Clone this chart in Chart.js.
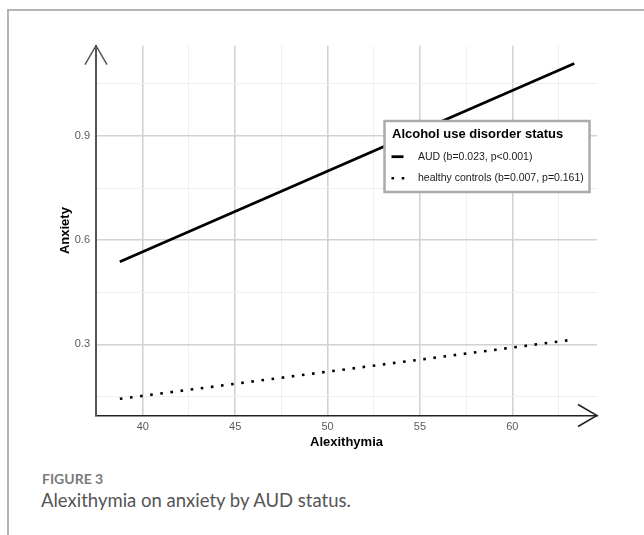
<!DOCTYPE html>
<html>
<head>
<meta charset="utf-8">
<script src="https://cdn.jsdelivr.net/npm/chart.js@4"></script>
<style>
    html, body { margin: 0; padding: 0; background: #fff; }
    body { width: 644px; height: 535px; position: relative; overflow: hidden; }
    #frame {
        position: absolute; left: 7px; top: 9px; right: -4px; bottom: -4px;
        border-top: 2px solid #b4b4b4; border-left: 2px solid #b4b4b4;
    }
    #chart { position: absolute; left: 0; top: 0; }
    .fig-label {
        position: absolute; left: 42px; top: 469.5px;
        font-family: Lato, "Open Sans", sans-serif; font-size: 14px; font-weight: bold;
        color: #7a7a7a;
    }
    .fig-caption {
        position: absolute; left: 41px; top: 488.5px;
        font-family: Lato, "Open Sans", sans-serif; font-size: 18.5px; color: #555;
    }
</style>
</head>
<body>
<div id="frame"></div>
<canvas id="chart" width="644" height="460"></canvas>
<div class="fig-label">FIGURE 3</div>
<div class="fig-caption">Alexithymia on anxiety by AUD status.</div>

<script>
// fitted lines, end points
const alexithymia = [38.76, 63.35];
const audAnxiety = [0.538, 1.109];
const hcAnxiety = [0.143, 0.314];

const seriesLabels = ["AUD (b=0.023, p<0.001)", "healthy controls (b=0.007, p=0.161)"];
const legendTitle = "Alcohol use disorder status";

const xTicks = [37.5, 40, 42.5, 45, 47.5, 50, 52.5, 55, 57.5, 60, 62.5];
const xLabels = [40, 45, 50, 55, 60];
const yTicks = [0.15, 0.3, 0.45, 0.6, 0.75, 0.9, 1.05];
const yLabels = [0.3, 0.6, 0.9];

const FONT = "'Liberation Sans', Arial, Helvetica, sans-serif";
Chart.defaults.font.family = FONT;

function points(xs, ys) {
    return xs.map((x, i) => ({ x: x, y: ys[i] }));
}

function isLabelled(list, v) {
    return list.some((l) => Math.abs(l - v) < 1e-6);
}

const MAJOR_GRID = "#d2d2d2";
const MINOR_GRID = "#efefef";

// axis arrows + the boxed legend inside the panel
const decorations = {
    id: "decorations",
    afterDraw(chart) {
        const ctx = chart.ctx;
        const area = chart.chartArea;
        ctx.save();

        // y arrow
        ctx.strokeStyle = "#555";
        ctx.lineWidth = 1.5;
        ctx.beginPath();
        ctx.moveTo(area.left - 11, area.top + 19);
        ctx.lineTo(area.left, area.top);
        ctx.lineTo(area.left + 11, area.top + 19);
        ctx.stroke();

        // x arrow
        ctx.strokeStyle = "#222";
        ctx.beginPath();
        ctx.moveTo(area.right - 19, area.bottom - 11);
        ctx.lineTo(area.right, area.bottom);
        ctx.lineTo(area.right - 19, area.bottom + 11);
        ctx.stroke();

        // legend
        const box = { left: 384.5, top: 121, width: 205, height: 71 };
        ctx.fillStyle = "#fff";
        ctx.fillRect(box.left, box.top, box.width, box.height);
        ctx.strokeStyle = "#ababab";
        ctx.lineWidth = 2.5;
        ctx.strokeRect(box.left, box.top, box.width, box.height);

        ctx.fillStyle = "#000";
        ctx.font = "bold 13px " + FONT;
        ctx.textBaseline = "alphabetic";
        ctx.textAlign = "left";
        ctx.fillText(legendTitle, 392, 137.5);

        const rowY = [156.7, 178.3];
        chart.data.datasets.forEach((ds, i) => {
            const y = rowY[i];
            ctx.strokeStyle = ds.borderColor;
            ctx.lineWidth = ds.borderWidth;
            ctx.setLineDash(ds.borderDash || []);
            ctx.beginPath();
            ctx.moveTo(391.5, y);
            ctx.lineTo(ds.borderDash ? 406 : 403.5, y);
            ctx.stroke();
            ctx.setLineDash([]);

            ctx.fillStyle = "#1a1a1a";
            ctx.font = "10.5px " + FONT;
            ctx.textBaseline = "middle";
            ctx.fillText(ds.label, 418, y);
        });
        ctx.restore();
    },
};

new Chart(document.getElementById("chart"), {
    type: "line",
    data: {
        datasets: [
            {
                label: seriesLabels[0],
                data: points(alexithymia, audAnxiety),
                borderColor: "#000",
                borderWidth: 2.8,
                pointRadius: 0,
                tension: 0,
            },
            {
                label: seriesLabels[1],
                data: points(alexithymia, hcAnxiety),
                borderColor: "#000",
                borderWidth: 2.6,
                borderDash: [2.6, 7.6],
                pointRadius: 0,
                tension: 0,
            },
        ],
    },
    options: {
        responsive: false,
        animation: false,
        layout: {
            padding: { left: 58, right: 47, top: 45.7, bottom: 4.5 },
        },
        plugins: {
            legend: { display: false },
            tooltip: { enabled: false },
        },
        scales: {
            x: {
                type: "linear",
                min: 37.47,
                max: 64.58,
                afterBuildTicks: (axis) => {
                    axis.ticks = xTicks.map((v) => ({ value: v }));
                },
                afterFit: (axis) => {
                    axis.height = 40;
                },
                ticks: {
                    autoSkip: false,
                    maxRotation: 0,
                    padding: 5,
                    color: "#5a5a5a",
                    font: { size: 11 },
                    callback: (v) => (isLabelled(xLabels, v) ? String(v) : ""),
                },
                grid: {
                    drawTicks: false,
                    color: (c) => (isLabelled(xLabels, c.tick.value) ? MAJOR_GRID : MINOR_GRID),
                    lineWidth: (c) => (isLabelled(xLabels, c.tick.value) ? 1.6 : 1),
                },
                border: { display: true, color: "#222", width: 1.6 },
                title: {
                    display: true,
                    text: "Alexithymia",
                    color: "#000",
                    font: { size: 13, weight: "bold" },
                    padding: { top: 0, bottom: 5.7 },
                },
            },
            y: {
                type: "linear",
                min: 0.095,
                max: 1.16,
                afterBuildTicks: (axis) => {
                    axis.ticks = yTicks.map((v) => ({ value: v }));
                },
                afterFit: (axis) => {
                    axis.width = 38;
                },
                ticks: {
                    autoSkip: false,
                    padding: 6,
                    color: "#5a5a5a",
                    font: { size: 11 },
                    callback: (v) => (isLabelled(yLabels, v) ? v.toFixed(1) : ""),
                },
                grid: {
                    drawTicks: false,
                    color: (c) => (isLabelled(yLabels, c.tick.value) ? MAJOR_GRID : MINOR_GRID),
                    lineWidth: (c) => (isLabelled(yLabels, c.tick.value) ? 1.6 : 1),
                },
                border: { display: true, color: "#555", width: 2 },
                title: {
                    display: true,
                    text: "Anxiety",
                    color: "#000",
                    font: { size: 13, weight: "bold" },
                    padding: { top: 0, bottom: 0 },
                },
            },
        },
    },
    plugins: [decorations],
});
</script>
</body>
</html>
